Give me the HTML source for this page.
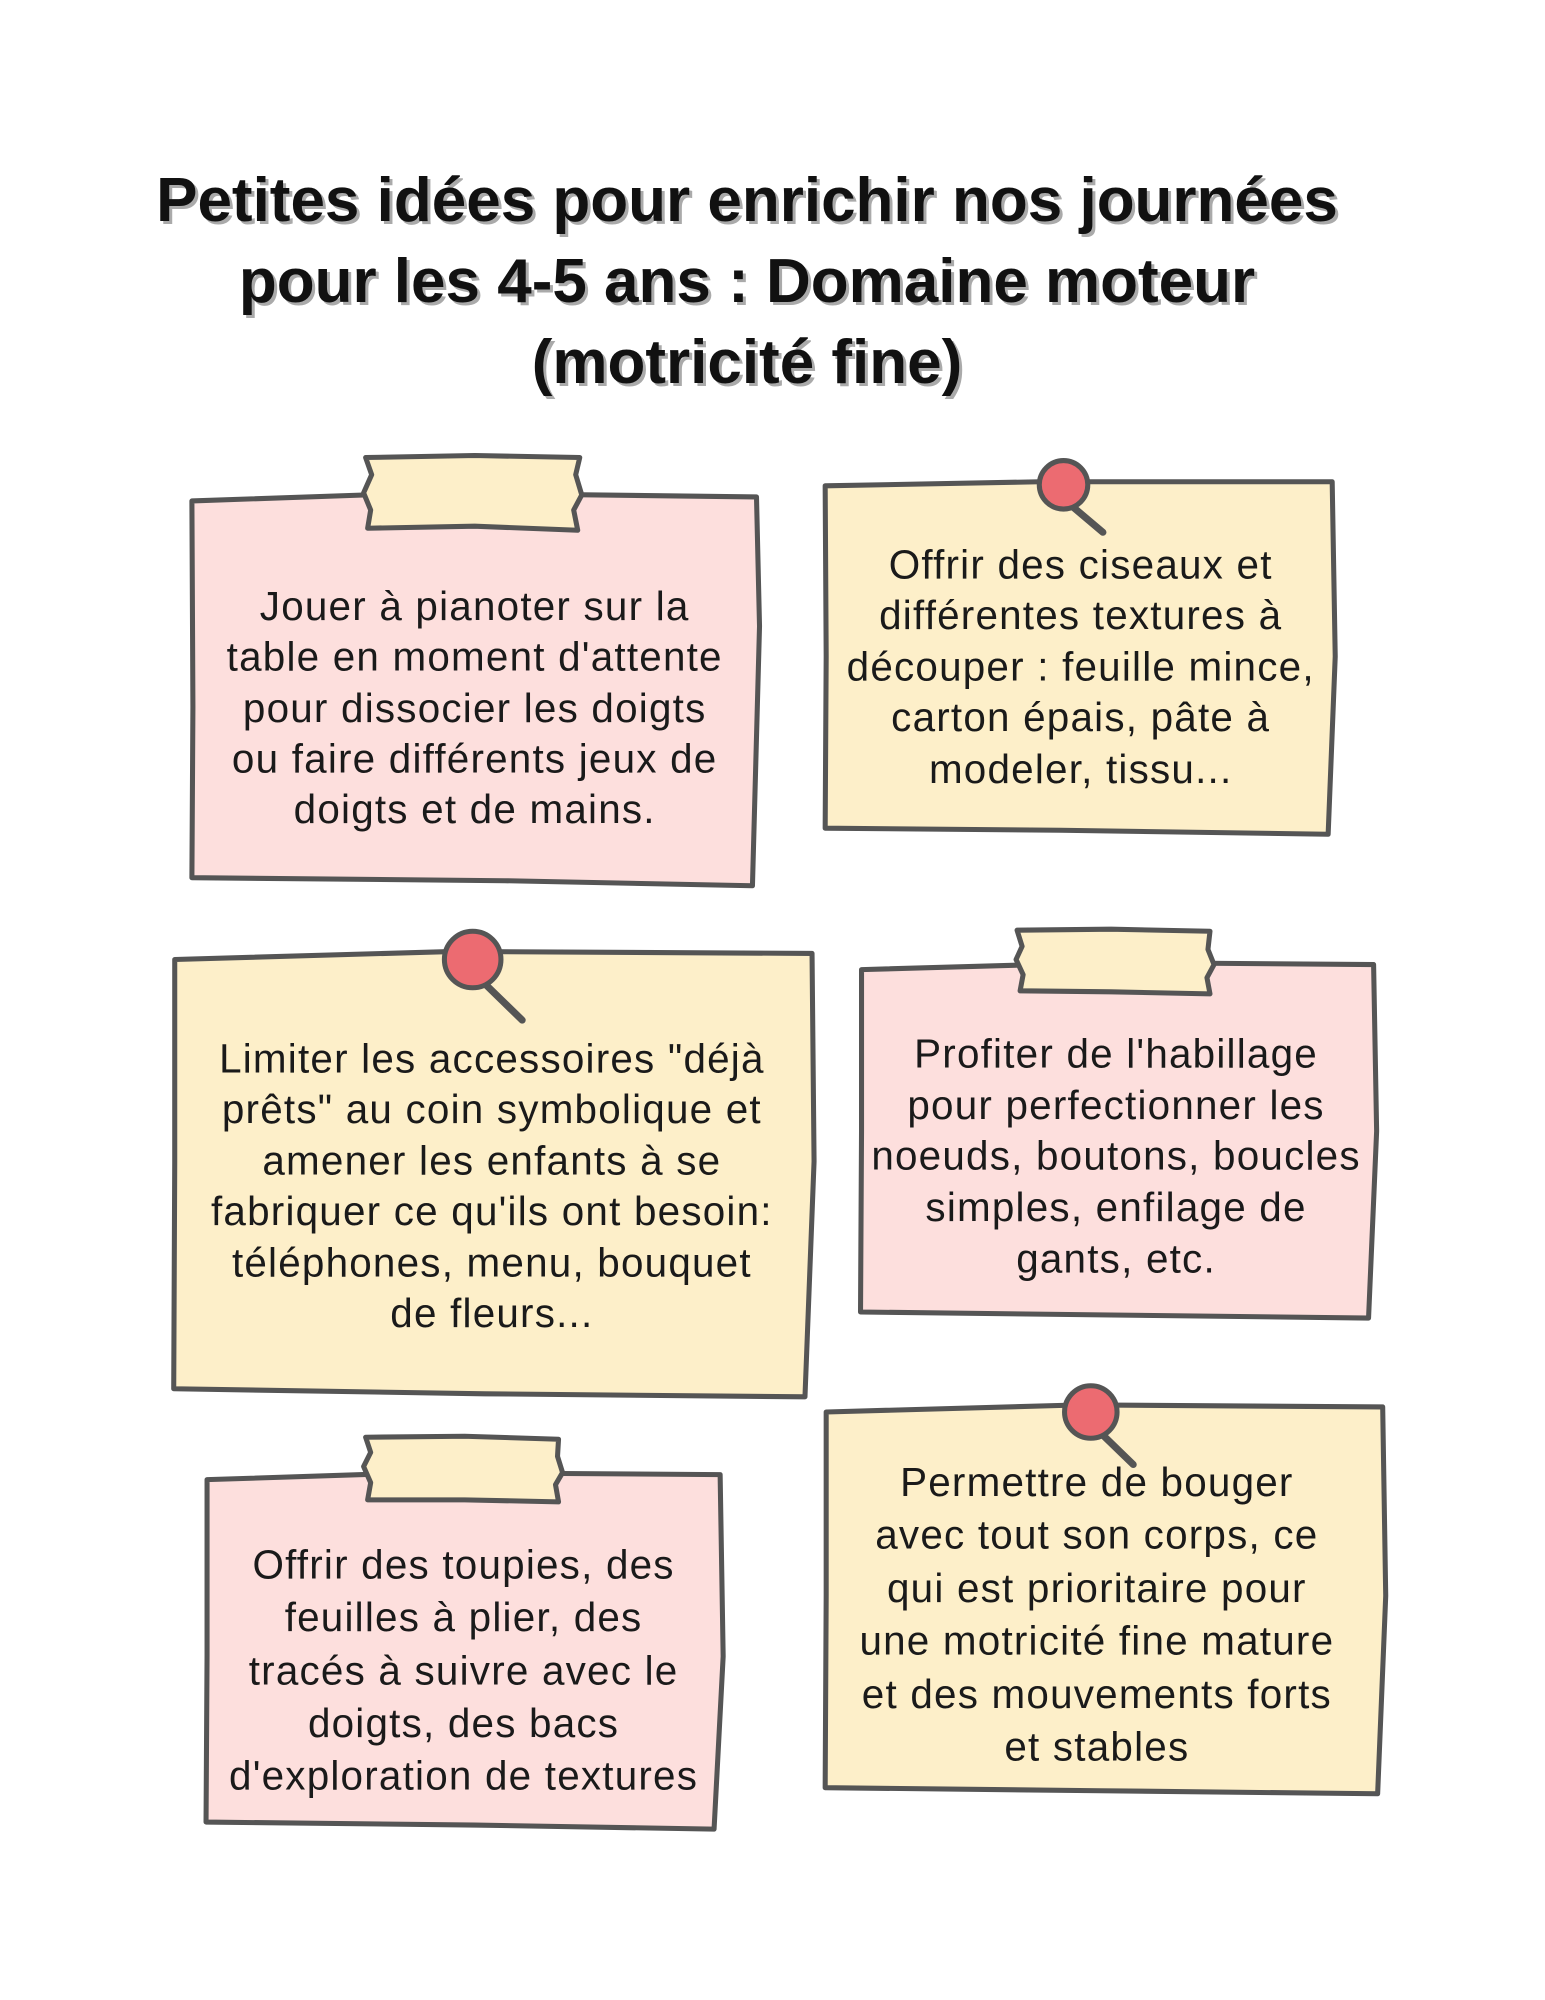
<!DOCTYPE html>
<html><head><meta charset="utf-8"><style>
html,body{margin:0;padding:0;background:#fff;}
svg{display:block;}
.t{font-family:"Liberation Sans",sans-serif;font-weight:bold;font-size:62px;fill:#111;text-anchor:middle;}
.ts{font-family:"Liberation Sans",sans-serif;font-weight:bold;font-size:62px;fill:#aaa;text-anchor:middle;}
.b{font-family:"Liberation Sans",sans-serif;font-size:40px;fill:#1a1a1a;text-anchor:middle;letter-spacing:1.2px;}
.card{stroke:#555;stroke-width:5;stroke-linejoin:round;}
.pk{fill:#fddfdd;}
.yl{fill:#fdefc9;}
</style></head><body>
<svg width="1545" height="2000" viewBox="0 0 1545 2000" xmlns="http://www.w3.org/2000/svg">
<g>
<text class="ts" x="750" y="224">Petites idées pour enrichir nos journées</text>
<text class="ts" x="750" y="305">pour les 4-5 ans : Domaine moteur</text>
<text class="ts" x="750" y="386">(motricité fine)</text>
<text class="t" x="747" y="221">Petites idées pour enrichir nos journées</text>
<text class="t" x="747" y="302">pour les 4-5 ans : Domaine moteur</text>
<text class="t" x="747" y="383">(motricité fine)</text>
</g>

<g transform="scale(1.01)">
<!-- Card 1 pink -->
<path class="card pk" d="M190,496 L420,488 L749,492 L752,620 L745,877 L500,872 L190,869 L191,700 Z"/>
<path class="card yl" d="M362,453 L470,451 L574,453 L570,470 L576,490 L568,505 L572,525 L470,521 L364,523 L367,505 L360,488 L368,470 Z"/>
<g class="b">
<text x="470" y="614">Jouer à pianoter sur la</text>
<text x="470" y="664">table en moment d'attente</text>
<text x="470" y="715">pour dissocier les doigts</text>
<text x="470" y="765">ou faire différents jeux de</text>
<text x="470" y="815">doigts et de mains.</text>
</g>

<!-- Card 2 yellow -->
<path class="card yl" d="M817,481 L1030,477 L1319,477 L1322,650 L1315,826 L1050,822 L817,820 L818,650 Z"/>
<g>
<path d="M1060,500 L1092,527" stroke="#555" stroke-width="7" stroke-linecap="round"/>
<circle cx="1053" cy="480" r="24" fill="#ec6b71" stroke="#555" stroke-width="5"/>
</g>
<g class="b">
<text x="1070" y="573">Offrir des ciseaux et</text>
<text x="1070" y="623">différentes textures à</text>
<text x="1070" y="674">découper : feuille mince,</text>
<text x="1070" y="724">carton épais, pâte à</text>
<text x="1070" y="775">modeler, tissu...</text>
</g>

<!-- Card 3 yellow -->
<path class="card yl" d="M173,950 L450,942 L804,944 L806,1150 L797,1383 L480,1380 L172,1375 L173,1150 Z"/>
<g>
<path d="M478,972 L517,1010" stroke="#555" stroke-width="7" stroke-linecap="round"/>
<circle cx="468" cy="950" r="28" fill="#ec6b71" stroke="#555" stroke-width="5"/>
</g>
<g class="b">
<text x="487" y="1062">Limiter les accessoires "déjà</text>
<text x="487" y="1112">prêts" au coin symbolique et</text>
<text x="487" y="1163">amener les enfants à se</text>
<text x="487" y="1213">fabriquer ce qu'ils ont besoin:</text>
<text x="487" y="1264">téléphones, menu, bouquet</text>
<text x="487" y="1314">de fleurs...</text>
</g>

<!-- Card 4 pink -->
<path class="card pk" d="M853,960 L1100,953 L1360,955 L1363,1120 L1355,1305 L1100,1302 L852,1299 L853,1120 Z"/>
<path class="card yl" d="M1007,921 L1100,920 L1198,922 L1196,940 L1202,955 L1195,968 L1198,984 L1100,982 L1010,981 L1013,965 L1006,950 L1012,937 Z"/>
<g class="b">
<text x="1105" y="1057">Profiter de l'habillage</text>
<text x="1105" y="1108">pour perfectionner les</text>
<text x="1105" y="1158">noeuds, boutons, boucles</text>
<text x="1105" y="1209">simples, enfilage de</text>
<text x="1105" y="1260">gants, etc.</text>
</g>

<!-- Card 5 pink -->
<path class="card pk" d="M205,1465 L420,1458 L713,1460 L716,1640 L707,1811 L470,1807 L204,1804 L205,1640 Z"/>
<path class="card yl" d="M362,1423 L460,1422 L553,1425 L552,1442 L557,1458 L550,1470 L553,1487 L460,1485 L364,1485 L367,1468 L360,1452 L367,1438 Z"/>
<g class="b">
<text x="459" y="1563">Offrir des toupies, des</text>
<text x="459" y="1615">feuilles à plier, des</text>
<text x="459" y="1668">tracés à suivre avec le</text>
<text x="459" y="1720">doigts, des bacs</text>
<text x="459" y="1772">d'exploration de textures</text>
</g>

<!-- Card 6 yellow -->
<path class="card yl" d="M818,1398 L1070,1391 L1369,1393 L1372,1580 L1364,1776 L1090,1773 L817,1770 L818,1580 Z"/>
<g>
<path d="M1089,1418 L1122,1450" stroke="#555" stroke-width="7" stroke-linecap="round"/>
<circle cx="1080" cy="1398" r="26" fill="#ec6b71" stroke="#555" stroke-width="5"/>
</g>
<g class="b">
<text x="1086" y="1481">Permettre de bouger</text>
<text x="1086" y="1533">avec tout son corps, ce</text>
<text x="1086" y="1586">qui est prioritaire pour</text>
<text x="1086" y="1638">une motricité fine mature</text>
<text x="1086" y="1691">et des mouvements forts</text>
<text x="1086" y="1743">et stables</text>
</g>
</g>
</svg>
</body></html>
